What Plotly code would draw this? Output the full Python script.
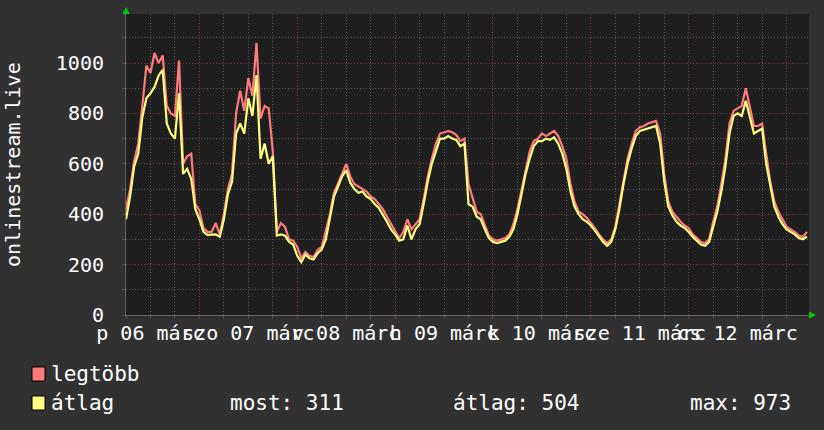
import plotly.graph_objects as go
import pandas as pd

# ---------------- data (hourly, starting 2020-03-05 06:00) ----------------
start_time = "2020-03-05 06:00"

atlag = [
    380, 470, 590, 640, 785, 860, 880, 905, 950, 973, 760, 720, 700, 880, 560, 580, 540, 420,
    380, 330, 318, 320, 320, 310, 380, 480, 530, 720, 760, 720, 860, 790, 952, 620, 680, 600,
    630, 315, 320, 315, 290, 280, 235, 210, 240, 225, 220, 245, 260, 300, 390, 470, 510, 550,
    575, 525, 500, 485, 490, 470, 460, 440, 425, 400, 370, 340, 320, 295, 300, 355, 300, 340,
    360, 440, 530, 600, 650, 700, 700, 710, 700, 695, 670, 680, 440, 430, 390, 380, 340, 305,
    290, 285, 290, 295, 310, 340, 400, 480, 560, 620, 670, 690, 690, 700, 695, 705, 680, 640,
    580, 490, 430, 400, 380, 370, 355, 335, 310, 290, 275, 290, 340, 420, 520, 600, 660, 710,
    730, 735, 740, 745, 750, 680, 530, 430, 395, 370, 355, 345, 330, 310, 295, 280, 275, 290,
    350, 410, 490, 590, 720, 790, 800, 790, 850, 780, 720, 730, 740, 600, 510, 430, 390, 360,
    340, 330, 320, 305, 300, 311,
]

legtobb = [
    420, 500, 610, 680, 830, 990, 960, 1040, 1000, 1030, 830, 800, 790, 1010, 600, 630, 640, 440,
    415, 345, 330, 330, 365, 320, 400, 500, 560, 800, 890, 810, 940, 870, 1080, 780, 830, 820,
    650, 330, 365, 350, 300, 295, 270, 225, 250, 235, 230, 258, 270, 335, 400, 485, 520, 560,
    600, 550, 520, 510, 500, 490, 470, 460, 440, 420, 390, 360, 330, 305, 330, 380, 340, 360,
    380, 460, 550, 620, 680, 720, 725, 730, 725, 715, 690, 700, 520, 460, 410, 400, 355, 315,
    300, 295, 300, 305, 320, 360, 420, 500, 580, 650, 690, 700, 720, 710, 720, 730, 710, 670,
    620, 520, 450, 410, 400, 385, 365, 345, 320, 300, 285, 300, 350, 440, 540, 620, 680, 730,
    745, 750, 760, 765, 770, 720, 560, 450, 410, 390, 370, 355, 345, 320, 305, 290, 285, 300,
    370, 430, 520, 620, 760, 810, 820, 830, 900, 820, 750, 750, 760, 640, 530, 450, 410, 380,
    350, 340, 330, 315, 310, 330,
]

day_labels = ["p 06 márc", "szo 07 márc", "v 08 márc", "h 09 márc",
              "k 10 márc", "sze 11 márc", "cs 12 márc"]
y_ticks = [0, 200, 400, 600, 800, 1000]

legend_names = ["legtöbb", "átlag"]
stat_labels = ["most: 311", "átlag: 504", "max: 973"]
y_title = "onlinestream.live"

# ---------------- derived axes ----------------
times = pd.date_range(start_time, periods=len(atlag), freq="h")
label_times = pd.date_range("2020-03-05 12:00", periods=len(day_labels), freq="D")
midnights = pd.date_range("2020-03-06 00:00", periods=7, freq="D")
x_start = pd.Timestamp(start_time)
x_end = x_start + pd.Timedelta(hours=167.5)

RED = "#ff7b7b"
YEL = "#ffff7f"
BG = "#313131"
PLOT_BG = "#1f1f1f"
MINOR = "#555555"
MAJOR = "#7a3a3a"
FONT = "DejaVu Sans Mono"

W, H = 824, 430
L, R, T, B = 126, 15, 14, 115
PW, PH = W - L - R, H - T - B


def px(x):
    return (x - L) / PW


def py(y):
    return (H - B - y) / PH


fig = go.Figure()
fig.add_trace(go.Scatter(x=times, y=legtobb, mode="lines", name=legend_names[0],
                         line=dict(color=RED, width=2.2), showlegend=False))
fig.add_trace(go.Scatter(x=times, y=atlag, mode="lines", name=legend_names[1],
                         line=dict(color=YEL, width=2.2), showlegend=False, xaxis="x2"))

fig.update_layout(
    width=W, height=H,
    margin=dict(l=L, r=R, t=T, b=B, pad=0),
    paper_bgcolor=BG, plot_bgcolor=PLOT_BG,
    font=dict(family=FONT, size=20, color="#ffffff"),
    xaxis=dict(
        range=[x_start, x_end], type="date", automargin=False,
        tickmode="array", tickvals=label_times, ticktext=day_labels, tickangle=0,
        showgrid=False, zeroline=False,
        showline=True, linecolor="#666666", linewidth=1,
        ticks="", tickfont=dict(family=FONT, size=20, color="#ffffff"),
        minor=dict(dtick=6 * 3600 * 1000, tick0="2020-03-05 00:00", showgrid=True,
                   gridcolor=MINOR, griddash="1px,2px", gridwidth=1,
                   ticks="outside", ticklen=3, tickcolor=MINOR),
    ),
    xaxis2=dict(
        range=[x_start, x_end], type="date", overlaying="x", side="bottom",
        tickmode="array", tickvals=midnights, showticklabels=False,
        showgrid=True, gridcolor=MAJOR, griddash="1px,2px", gridwidth=1,
        ticks="outside", ticklen=3, tickcolor=MAJOR, zeroline=False, showline=False,
    ),
    yaxis=dict(
        range=[0, PH / 0.252], tickmode="array", tickvals=y_ticks, automargin=False,
        ticktext=[str(v) for v in y_ticks],
        showgrid=True, gridcolor=MAJOR, griddash="1px,2px", gridwidth=1,
        zeroline=False, showline=True, linecolor="#666666", linewidth=1,
        ticks="outside", ticklen=3, tickcolor=MAJOR,
        ticklabelstandoff=14,
        tickfont=dict(family=FONT, size=20, color="#ffffff"),
        minor=dict(dtick=100, tick0=0, showgrid=True, gridcolor=MINOR,
                   griddash="1px,2px", gridwidth=1,
                   ticks="outside", ticklen=3, tickcolor=MINOR),
    ),
)

shapes = []
# axis arrows
shapes.append(dict(type="path", xref="paper", yref="paper",
                   path=f"M {px(122.5)} {py(14)} L {px(129.5)} {py(14)} L {px(126)} {py(7)} Z",
                   fillcolor="#00cc00", line=dict(width=0)))
shapes.append(dict(type="path", xref="paper", yref="paper",
                   path=f"M {px(809)} {py(311.5)} L {px(809)} {py(318.5)} L {px(816)} {py(315)} Z",
                   fillcolor="#00cc00", line=dict(width=0)))
# legend boxes
for col, (y0, y1) in zip([RED, YEL], [(367, 381), (396, 410)]):
    shapes.append(dict(type="rect", xref="paper", yref="paper",
                       x0=px(32), x1=px(45), y0=py(y1), y1=py(y0),
                       fillcolor=col, line=dict(color="#000000", width=1)))
fig.update_layout(shapes=shapes)

LEG_FONT = dict(family=FONT, size=21, color="#ffffff")
ann = []
ann.append(dict(text=y_title, xref="paper", yref="paper", x=px(13), y=py(165),
                textangle=-90, showarrow=False, xanchor="center", yanchor="middle",
                font=dict(family=FONT, size=20, color="#ffffff")))
ann.append(dict(text=legend_names[0], xref="paper", yref="paper", x=px(49), y=py(374),
                showarrow=False, xanchor="left", yanchor="middle", font=LEG_FONT))
ann.append(dict(text=legend_names[1], xref="paper", yref="paper", x=px(49), y=py(403),
                showarrow=False, xanchor="left", yanchor="middle", font=LEG_FONT))
for txt, x0 in zip(stat_labels, [228, 451, 688]):
    ann.append(dict(text=txt, xref="paper", yref="paper", x=px(x0), y=py(403),
                    showarrow=False, xanchor="left", yanchor="middle", font=LEG_FONT))
fig.update_layout(annotations=ann)

fig.write_html(
    "out.html",
    config={"displayModeBar": False},
    post_script="document.body.style.margin='0';document.body.style.background='#313131';",
)
